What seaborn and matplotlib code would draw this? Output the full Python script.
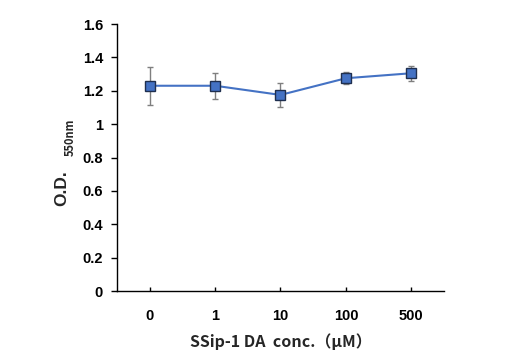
import matplotlib
matplotlib.use("Agg")
import matplotlib.pyplot as plt
import seaborn as sns
import pandas as pd

categories = ["0", "1", "10", "100", "500"]
od_values = [1.23, 1.23, 1.175, 1.275, 1.305]
od_errors = [0.113, 0.078, 0.07, 0.035, 0.046]
y_ticks = [0, 0.2, 0.4, 0.6, 0.8, 1, 1.2, 1.4, 1.6]
y_tick_labels = ["0", "0.2", "0.4", "0.6", "0.8", "1", "1.2", "1.4", "1.6"]

sns.set_style("ticks")
plt.rcParams['font.family'] = ['Noto Sans CJK JP', 'DejaVu Sans']

df = pd.DataFrame({"conc": categories, "od": od_values, "err": od_errors})

fig = plt.figure(figsize=(5.19, 3.61), dpi=100)
ax = fig.add_axes([0.2254, 0.1939, 0.6301, 0.7396])

x = list(range(len(categories)))
ax.errorbar(x, df["od"], yerr=df["err"], fmt="none", ecolor="#7f7f7f",
            elinewidth=1.0, capsize=2.2, capthick=1.0, zorder=2)
sns.lineplot(data=df, x="conc", y="od", ax=ax, color="#4472C4", linewidth=1.5,
             marker="s", markersize=6.8, markerfacecolor="#4472C4",
             markeredgecolor="#1f2f4f", markeredgewidth=1.0, sort=False, zorder=3)

tick_font = {"family": ["Liberation Sans", "DejaVu Sans"], "size": 10.5, "weight": "bold"}
ax.set_xlim(-0.5, 4.5)
ax.set_ylim(0, 1.6)
ax.set_yticks(y_ticks)
ax.set_yticklabels(y_tick_labels, fontdict=tick_font)
ax.set_xticks(x)
ax.set_xticklabels(categories, fontdict=tick_font)
ax.tick_params(axis="y", direction="out", length=4, width=1, colors="black", pad=6)
ax.tick_params(axis="x", direction="in", length=3, width=1, colors="black", pad=13)
for s in ["top", "right"]:
    ax.spines[s].set_visible(False)
for s in ["left", "bottom"]:
    ax.spines[s].set_color("black")
    ax.spines[s].set_linewidth(1.0)

ax.set_xlabel("SSip-1 DA  conc.（μM）", fontsize=11.5, fontweight="bold", labelpad=7)
ax.set_ylabel("")

fig.text(0.1185, 0.479, "O.D.", rotation=90, fontsize=12.5, fontweight="bold",
         family=["Liberation Sans", "DejaVu Sans"], ha="center", va="center")
fig.text(0.135, 0.62, "550nm", rotation=90, fontsize=8, fontweight="bold",
         ha="center", va="center")

fig.savefig("out.png", dpi=100)
